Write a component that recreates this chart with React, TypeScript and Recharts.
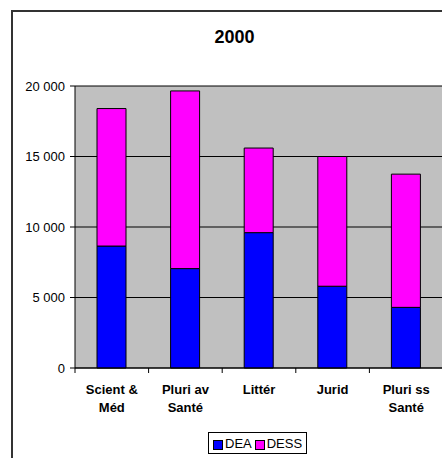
import React from "react";
import { BarChart, Bar, XAxis, YAxis, CartesianGrid } from "recharts";

const categories = ["Scient & Méd", "Pluri av Santé", "Littér", "Jurid", "Pluri ss Santé"];
const labelLines = [["Scient &", "Méd"], ["Pluri av", "Santé"], ["Littér"], ["Jurid"], ["Pluri ss", "Santé"]];
const dea = [8650, 7050, 9600, 5800, 4300];
const dess = [9750, 12600, 6000, 9200, 9450];
const yTicks = [0, 5000, 10000, 15000, 20000];
const seriesNames = ["DEA", "DESS"];
const seriesColors = ["#0000FF", "#FF00FF"];

const data = categories.map((c, i) => ({ name: c, DEA: dea[i], DESS: dess[i] }));

const W = 444;
const H = 458;
const M = { top: 86, right: 1, bottom: 30, left: 0 };
const YW = 75;
const XH = 60;
const AXIS_Y = H - M.bottom - XH;
const BAND = (W - M.left - M.right - YW) / categories.length;
const FONT = "'Liberation Sans', Arial, sans-serif";

const fmt = (v: number) => String(v).replace(/\B(?=(\d{3})+(?!\d))/g, " ");

function XTick(props: any) {
  const { x, index } = props;
  const lines = labelLines[index] || [];
  return (
    <g>
      <line x1={x - BAND / 2} x2={x - BAND / 2} y1={AXIS_Y} y2={AXIS_Y + 5} stroke="#000" />
      {index === categories.length - 1 && (
        <line x1={x + BAND / 2} x2={x + BAND / 2} y1={AXIS_Y} y2={AXIS_Y + 5} stroke="#000" />
      )}
      {lines.map((l: string, k: number) => (
        <text
          key={k}
          x={x}
          y={AXIS_Y + 26 + k * 18}
          textAnchor="middle"
          fontFamily={FONT}
          fontWeight="bold"
          fontSize={13}
          fill="#000"
        >
          {l}
        </text>
      ))}
    </g>
  );
}

export default function App() {
  return (
    <div
      style={{
        position: "absolute",
        left: 0,
        top: 0,
        width: 442,
        height: 458,
        overflow: "hidden",
        background: "#fff",
        fontFamily: FONT,
      }}
    >
      <div
        style={{
          position: "absolute",
          left: 11,
          top: 10,
          width: 480,
          height: 480,
          border: "2px solid #333",
          boxSizing: "border-box",
        }}
      />
      <div
        style={{
          position: "absolute",
          left: 0,
          top: 26,
          width: 469,
          textAlign: "center",
          fontSize: 18,
          fontWeight: "bold",
          lineHeight: "22px",
        }}
      >
        2000
      </div>
      <div style={{ position: "absolute", left: 0, top: 0 }}>
        <BarChart width={W} height={H} data={data} margin={M} barSize={29}>
          <CartesianGrid vertical={false} fill="#C0C0C0" stroke="#000" fillOpacity={1} />
          <XAxis
            dataKey="name"
            height={XH}
            interval={0}
            tickLine={false}
            axisLine={{ stroke: "#000" }}
            tick={<XTick />}
          />
          <YAxis
            width={YW}
            domain={[0, 20000]}
            ticks={yTicks}
            interval={0}
            tickSize={5}
            tickMargin={5}
            tickFormatter={fmt}
            axisLine={{ stroke: "#000" }}
            tickLine={{ stroke: "#000" }}
            tick={{ fill: "#000", fontSize: 13, fontFamily: FONT }}
          />
          <Bar dataKey="DEA" stackId="a" fill={seriesColors[0]} stroke="#000" strokeWidth={1} isAnimationActive={false} />
          <Bar dataKey="DESS" stackId="a" fill={seriesColors[1]} stroke="#000" strokeWidth={1} isAnimationActive={false} />
        </BarChart>
      </div>
      <div
        style={{
          position: "absolute",
          left: 208,
          top: 432,
          height: 22,
          padding: "0 4px",
          border: "1px solid #000",
          background: "#fff",
          display: "flex",
          alignItems: "center",
          boxSizing: "border-box",
          fontSize: 13,
        }}
      >
        {seriesNames.map((n, i) => (
          <span key={n} style={{ display: "flex", alignItems: "center", marginRight: i === 0 ? 3 : 0 }}>
            <span
              style={{
                display: "inline-block",
                width: 8,
                height: 8,
                background: seriesColors[i],
                border: "1px solid #000",
                marginRight: 2,
                marginTop: 3,
              }}
            />
            {n}
          </span>
        ))}
      </div>
    </div>
  );
}
